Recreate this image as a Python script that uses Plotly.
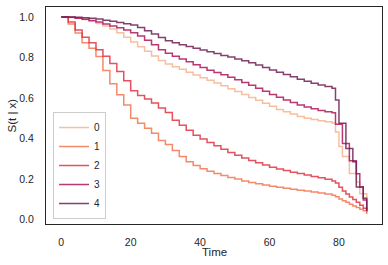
import plotly.graph_objects as go

times = [0, 2, 4, 6, 8, 10, 12, 14, 16, 18, 20, 22, 24, 26, 28, 30, 32, 34, 36, 38,
         40, 42, 44, 46, 48, 50, 52, 54, 56, 58, 60, 62, 64, 66, 68, 70, 72, 74, 76, 78,
         79, 80, 81, 82, 83, 84, 85, 86, 87, 88]

s0 = [1.0, 0.997, 0.993, 0.987, 0.978, 0.968, 0.955, 0.94, 0.922, 0.9, 0.876, 0.853, 0.83, 0.807, 0.785, 0.768, 0.754, 0.741, 0.727, 0.713,
      0.70, 0.687, 0.674, 0.66, 0.645, 0.632, 0.617, 0.602, 0.588, 0.573, 0.559, 0.543, 0.532, 0.52, 0.508, 0.50, 0.493, 0.487, 0.482, 0.476,
      0.432, 0.36, 0.31, 0.31, 0.226, 0.226, 0.185, 0.127, 0.127, 0.035]
s1 = [1.0, 0.965, 0.92, 0.872, 0.845, 0.805, 0.735, 0.67, 0.615, 0.565, 0.50, 0.475, 0.45, 0.425, 0.39, 0.37, 0.34, 0.31, 0.285, 0.266,
      0.25, 0.237, 0.227, 0.216, 0.207, 0.199, 0.19, 0.182, 0.176, 0.17, 0.164, 0.159, 0.154, 0.149, 0.144, 0.14, 0.135, 0.13, 0.125, 0.119,
      0.112, 0.10, 0.092, 0.084, 0.075, 0.066, 0.058, 0.05, 0.043, 0.026]
s2 = [1.0, 0.975, 0.935, 0.90, 0.872, 0.838, 0.806, 0.77, 0.73, 0.685, 0.635, 0.612, 0.595, 0.575, 0.55, 0.528, 0.49, 0.465, 0.44, 0.416,
      0.397, 0.38, 0.363, 0.346, 0.33, 0.317, 0.303, 0.291, 0.279, 0.268, 0.257, 0.249, 0.241, 0.233, 0.226, 0.219, 0.212, 0.205, 0.198, 0.19,
      0.18, 0.158, 0.14, 0.125, 0.11, 0.098, 0.085, 0.07, 0.055, 0.04]
s3 = [1.0, 0.998, 0.994, 0.988, 0.982, 0.975, 0.965, 0.955, 0.947, 0.935, 0.922, 0.906, 0.885, 0.862, 0.838, 0.82, 0.806, 0.792, 0.778, 0.764,
      0.75, 0.737, 0.726, 0.714, 0.702, 0.69, 0.676, 0.662, 0.648, 0.633, 0.617, 0.603, 0.59, 0.577, 0.565, 0.555, 0.546, 0.538, 0.532, 0.527,
      0.47, 0.47, 0.375, 0.375, 0.29, 0.29, 0.225, 0.16, 0.095, 0.04]
s4 = [1.0, 1.0, 0.998, 0.996, 0.993, 0.99, 0.984, 0.978, 0.972, 0.966, 0.96, 0.948, 0.932, 0.915, 0.898, 0.882, 0.872, 0.863, 0.854, 0.845,
      0.836, 0.828, 0.819, 0.81, 0.802, 0.792, 0.783, 0.773, 0.762, 0.75, 0.738, 0.727, 0.716, 0.704, 0.692, 0.682, 0.672, 0.664, 0.656, 0.648,
      0.589, 0.475, 0.475, 0.35, 0.35, 0.284, 0.16, 0.16, 0.104, 0.045]

labels = ["0", "1", "2", "3", "4"]
series = [s0, s1, s2, s3, s4]
colors = ["#f6b48f", "#f37651", "#e13342", "#ad1759", "#701f57"]

x_ticks = [0, 20, 40, 60, 80]
y_ticks = [0.0, 0.2, 0.4, 0.6, 0.8, 1.0]
x_title = "Time"
y_title = "S(t | x)"

FONT = "Liberation Sans, Arial, sans-serif"
TXT = "#262626"

fig = go.Figure()
for lab, ys, c in zip(labels, series, colors):
    fig.add_trace(go.Scatter(x=times, y=ys, mode="lines", name=lab,
                             line=dict(color=c, width=1.5, shape="hv"), opacity=0.85))

axis_common = dict(showline=True, mirror=True, linecolor=TXT, linewidth=1.25,
                   showgrid=False, zeroline=False, ticks="", automargin=False,
                   tickfont=dict(family=FONT, size=10.5, color=TXT))

fig.update_xaxes(range=[-4.4, 92.4], tickvals=x_ticks, ticklabelstandoff=8, **axis_common)
fig.update_yaxes(range=[-0.023, 1.049], tickvals=y_ticks, tickformat=".1f",
                 ticklabelstandoff=9, **axis_common)

fig.add_annotation(text=x_title, xref="paper", yref="paper", x=0.5, y=-0.1276,
                   xanchor="center", yanchor="middle", showarrow=False,
                   font=dict(family=FONT, size=11.5, color=TXT))
fig.add_annotation(text=y_title, xref="paper", yref="paper", x=-0.1012, y=0.5,
                   xanchor="center", yanchor="middle", showarrow=False, textangle=-90,
                   font=dict(family=FONT, size=11.5, color=TXT))

fig.update_layout(
    width=388, height=265,
    margin=dict(l=46, r=6, t=7, b=41),
    paper_bgcolor="white", plot_bgcolor="white",
    font=dict(family=FONT, color=TXT),
    legend=dict(x=0.021, y=0.023, xanchor="left", yanchor="bottom",
                bgcolor="rgba(255,255,255,0.8)", bordercolor="#cccccc", borderwidth=1,
                font=dict(family=FONT, size=10, color=TXT),
                tracegroupgap=0, itemwidth=30),
    showlegend=True,
)

fig.write_html("out.html", config={"displayModeBar": False},
               post_script="document.body.style.margin='0';document.body.style.padding='0';")
